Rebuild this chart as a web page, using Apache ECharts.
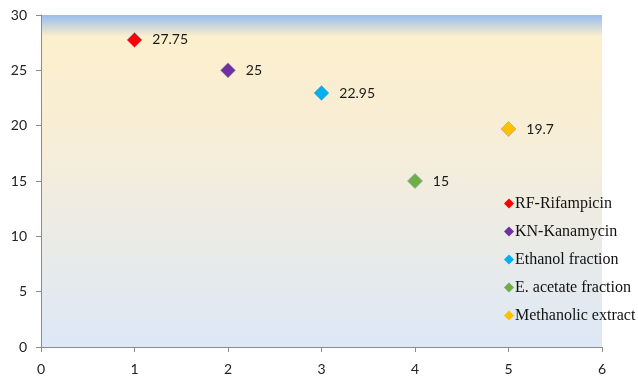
<!DOCTYPE html>
<html>
<head>
<meta charset="utf-8">
<script src="https://cdn.jsdelivr.net/npm/echarts@6/dist/echarts.min.js"></script>
<style>
html, body { margin: 0; padding: 0; background: #ffffff; }
#chart { width: 638px; height: 378px; }
</style>
</head>
<body>
<div id="chart"></div>
<script>
// Zone of inhibition per treatment, one point per series
const seriesNames = ['RF-Rifampicin', 'KN-Kanamycin', 'Ethanol fraction', 'E. acetate fraction', 'Methanolic extract'];
const xPositions = [1, 2, 3, 4, 5];
const yValues = [27.75, 25, 22.95, 15, 19.7];
const seriesColors = ['#ff0000', '#7030a0', '#00b0f0', '#70ad47', '#ffc000'];
const xTicks = [0, 1, 2, 3, 4, 5, 6];
const yTicks = [0, 5, 10, 15, 20, 25, 30];

const chart = echarts.init(document.getElementById('chart'));

const series = seriesNames.map((name, i) => ({
  name: name,
  type: 'scatter',
  symbol: 'diamond',
  symbolSize: 15,
  itemStyle: { color: seriesColors[i], opacity: 1, borderColor: '#8ea3b8', borderWidth: 0.6 },
  label: {
    show: true,
    position: 'right',
    distance: 10,
    color: '#1a1a1a',
    fontFamily: 'Lato, "Open Sans", sans-serif',
    fontSize: 14,
    formatter: p => String(p.value[1])
  },
  data: [[xPositions[i], yValues[i]]]
}));

chart.setOption({
  animation: false,
  grid: {
    left: 41, right: 36, top: 15, bottom: 31,
    show: true,
    borderWidth: 0,
    backgroundColor: new echarts.graphic.LinearGradient(0, 0, 0, 1, [
      { offset: 0, color: '#98bdee' },
      { offset: 0.065, color: '#fcefcc' },
      { offset: 0.35, color: '#f8eed6' },
      { offset: 1, color: '#dde8f6' }
    ])
  },
  legend: {
    orient: 'vertical',
    left: 499,
    top: 189,
    itemGap: 9,
    itemWidth: 10,
    itemHeight: 10,
    icon: 'diamond',
    itemStyle: { borderWidth: 0, opacity: 1 },
    textStyle: { fontFamily: '"Liberation Serif", serif', fontSize: 16, color: '#111111', padding: [0, 0, 0, -4], lineHeight: 19 },
    data: seriesNames
  },
  xAxis: {
    type: 'value',
    min: xTicks[0], max: xTicks[xTicks.length - 1], interval: 1,
    axisLine: { show: true, lineStyle: { color: '#8c8c8c' } },
    axisTick: { show: true, length: 5, lineStyle: { color: '#8c8c8c' } },
    axisLabel: { color: '#222222', fontFamily: 'Lato, sans-serif', fontSize: 14, margin: 15 },
    splitLine: { show: false }
  },
  yAxis: {
    type: 'value',
    min: yTicks[0], max: yTicks[yTicks.length - 1], interval: 5,
    axisLine: { show: true, lineStyle: { color: '#8c8c8c' } },
    axisTick: { show: true, length: 5, lineStyle: { color: '#8c8c8c' } },
    axisLabel: { color: '#222222', fontFamily: 'Lato, sans-serif', fontSize: 14, margin: 14 },
    splitLine: { show: false }
  },
  series: series
});
</script>
</body>
</html>
